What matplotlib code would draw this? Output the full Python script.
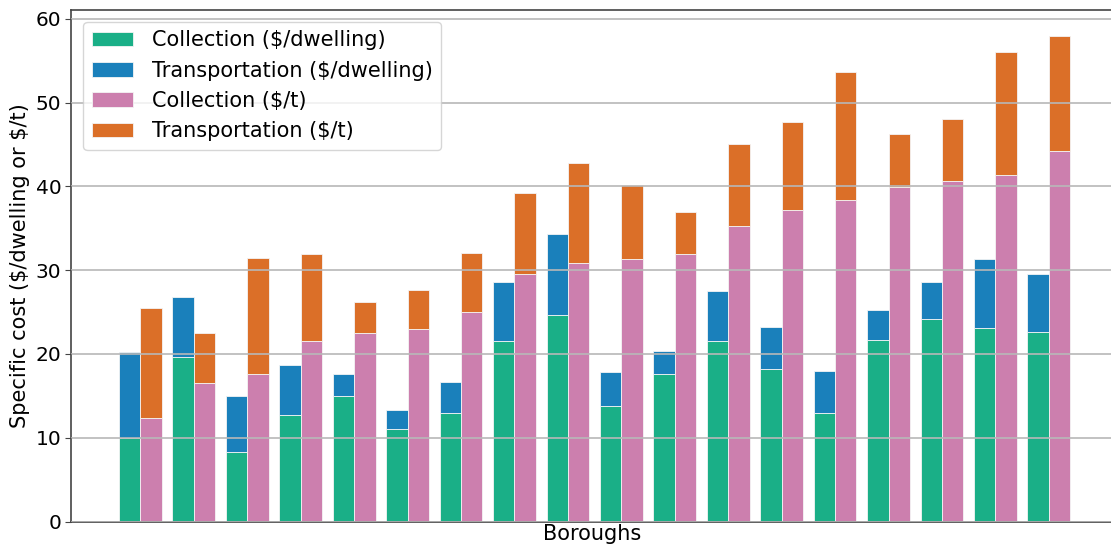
import numpy as np
import matplotlib
matplotlib.use("Agg")
import matplotlib.pyplot as plt

# Specific waste-management costs per borough
boroughs = [f"B{i}" for i in range(1, 19)]
collection_dwelling = [10.0, 19.6, 8.3, 12.7, 15.0, 11.1, 12.9, 21.6, 24.7,
                       13.8, 17.6, 21.6, 18.2, 12.9, 21.7, 24.2, 23.1, 22.6]
total_dwelling = [20.2, 26.8, 15.0, 18.7, 17.6, 13.3, 16.6, 28.6, 34.3,
                  17.8, 20.4, 27.5, 23.25, 18.0, 25.2, 28.6, 31.3, 29.5]
collection_tonne = [12.4, 16.5, 17.6, 21.6, 22.5, 23.0, 25.0, 29.6, 30.8,
                    31.3, 31.9, 35.25, 37.2, 38.4, 39.9, 40.7, 41.3, 44.25]
total_tonne = [25.5, 22.5, 31.5, 31.9, 26.25, 27.6, 32.0, 39.2, 42.8,
               40.2, 36.9, 45.0, 47.7, 53.6, 46.2, 48.1, 56.0, 57.9]

transport_dwelling = np.array(total_dwelling) - np.array(collection_dwelling)
transport_tonne = np.array(total_tonne) - np.array(collection_tonne)

c_green = "#1aaf87"
c_blue = "#1a80bb"
c_pink = "#cc7fae"
c_orange = "#db6f28"

fig = plt.figure(figsize=(11.11, 5.49), dpi=100)
ax = fig.add_axes([0.0639, 0.050, 0.9379, 0.931])

x = np.arange(len(boroughs))
w = 0.4
edge = dict(edgecolor="#f4f4f4", linewidth=0.6)
ax.bar(x - w / 2, collection_dwelling, w, color=c_green,
       label="Collection (\\$/dwelling)", **edge)
ax.bar(x - w / 2, transport_dwelling, w, bottom=collection_dwelling,
       color=c_blue, label="Transportation (\\$/dwelling)", **edge)
ax.bar(x + w / 2, collection_tonne, w, color=c_pink,
       label="Collection (\\$/t)", **edge)
ax.bar(x + w / 2, transport_tonne, w, bottom=collection_tonne,
       color=c_orange, label="Transportation (\\$/t)", **edge)

ax.set_xlim(-1.298, 18.2)
ax.set_ylim(0, 61)
ax.set_yticks([0, 10, 20, 30, 40, 50, 60])
ax.set_xticks([])
ax.grid(axis="y", color="#b8b8b8", linewidth=1.2)
ax.set_axisbelow(False)
for s in ax.spines.values():
    s.set_color("#444444")
    s.set_linewidth(1.2)
ax.spines["right"].set_visible(False)
ax.tick_params(axis="y", labelsize=14.5, color="#444444", length=4, pad=3)
ax.set_ylabel("Specific cost (\\$/dwelling or \\$/t)", fontsize=15, labelpad=4)
ax.set_xlabel("Boroughs", fontsize=15, labelpad=2)

leg = ax.legend(loc="upper left", fontsize=15, frameon=True, fancybox=True,
                handlelength=2.0, handleheight=0.7, borderpad=0.4,
                labelspacing=0.5, handletextpad=0.9,
                bbox_to_anchor=(0.002, 0.998))
leg.get_frame().set_edgecolor("#cccccc")
leg.set_zorder(5)

fig.savefig("out.png", dpi=100)
